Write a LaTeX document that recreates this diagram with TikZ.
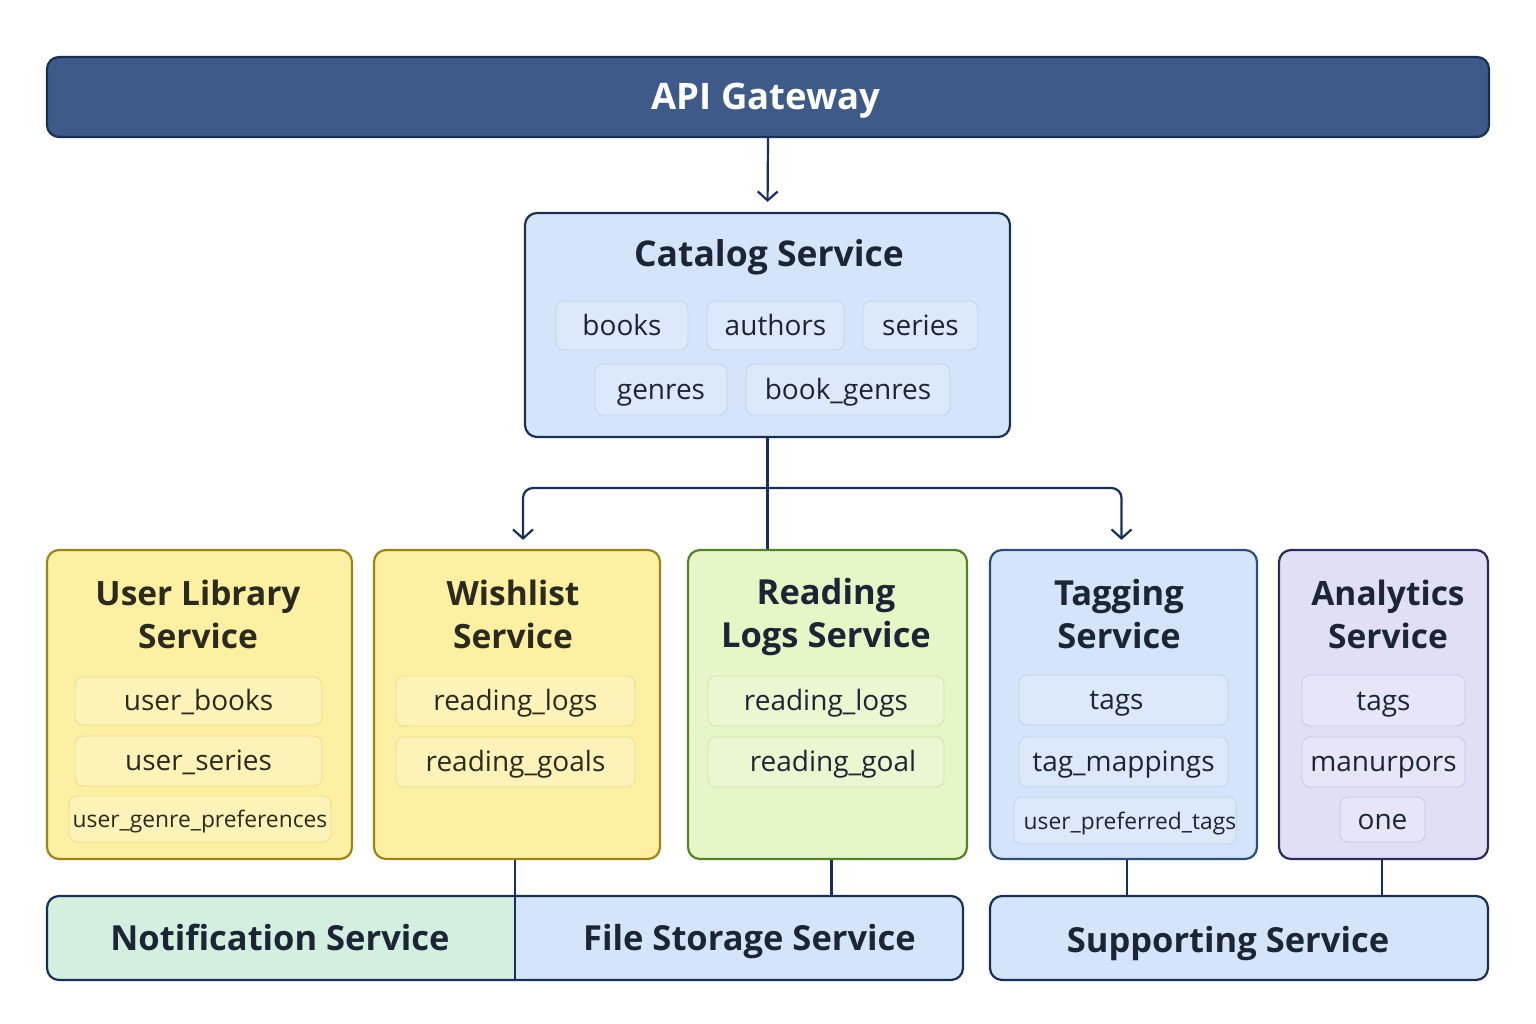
\documentclass[tikz,border=0pt]{standalone}
\usepackage{fontspec}
\setmainfont{Open Sans}
\usetikzlibrary{arrows.meta}
\definecolor{gwfill}{HTML}{3E5A88}
\definecolor{gwdraw}{HTML}{1B2F55}
\definecolor{navy}{HTML}{17305A}
\definecolor{ink}{HTML}{1C2535}
\definecolor{bluefill}{HTML}{D4E5FB}
\definecolor{bluepill}{HTML}{DCE9FC}
\definecolor{bluepillb}{HTML}{BFD1E8}
\definecolor{bluedraw}{HTML}{2C4F7A}
\definecolor{yelfill}{HTML}{FDF0A3}
\definecolor{yeldraw}{HTML}{A08316}
\definecolor{yelpill}{HTML}{FDF3B8}
\definecolor{yelpillb}{HTML}{ECDB8E}
\definecolor{grnfill}{HTML}{E5F7C6}
\definecolor{grndraw}{HTML}{56802C}
\definecolor{grnpill}{HTML}{E9F8D0}
\definecolor{grnpillb}{HTML}{CFE2B0}
\definecolor{purfill}{HTML}{E1DFF6}
\definecolor{purdraw}{HTML}{2B2B5E}
\definecolor{purpill}{HTML}{E7E5F8}
\definecolor{purpillb}{HTML}{C9C6E4}
\definecolor{mint}{HTML}{D3EFE0}
\definecolor{yelink}{HTML}{2B2A1E}
\tikzset{
  box/.style={rectangle, rounded corners=12pt, line width=2.2pt, inner sep=0pt},
  ttl/.style={align=center, font=\fontsize{33.5}{43}\selectfont\bfseries, text=ink, inner sep=0pt},
  pill/.style={rectangle, rounded corners=8pt, line width=0.8pt, inner sep=0pt, font=\fontsize{28}{32}\selectfont, text=ink, text height=24pt, text depth=5pt},
  spill/.style={pill, font=\fontsize{22.8}{26}\selectfont, text height=21pt, text depth=4pt},
  arr/.style={draw=navy, line width=2.2pt, -{Straight Barb[length=9pt,width=20pt,line width=2.2pt]}},
  conn/.style={draw=navy, line width=2.2pt},
  bpill/.style={pill, fill=bluepill, draw=bluepillb},
  ypill/.style={pill, fill=yelpill, draw=yelpillb},
  gpill/.style={pill, fill=grnpill, draw=grnpillb},
  ppill/.style={pill, fill=purpill, draw=purpillb},
  btxt/.style={rectangle, inner sep=0pt, font=\fontsize{34.5}{40}\selectfont\bfseries, text=ink, text height=29pt, text depth=4.4pt},
}
\begin{document}
\begin{tikzpicture}[x=1pt,y=-1pt]
\useasboundingbox (0,0) rectangle (1536,1024);
% API gateway
\node[box, fill=gwfill, draw=gwdraw, minimum width=1442pt, minimum height=80pt] (gw) at (768,97) {};
\node[text=white, inner sep=0pt, font=\fontsize{36.5}{40}\selectfont\bfseries, text height=30pt, text depth=4pt] (gwt) at (766,97) {API Gateway};
% Catalog
\node[box, fill=bluefill, draw=gwdraw, minimum width=485pt, minimum height=224pt] (cat) at (767.5,325) {};
\node[ttl, font=\fontsize{35.5}{43}\selectfont\bfseries, anchor=base] (catt) at (769,267) {Catalog Service};
\node[bpill, minimum width=132pt, minimum height=49pt] (p1) at (622,325.5) {books};
\node[bpill, minimum width=137pt, minimum height=49pt] (p2) at (775.5,325.5) {authors};
\node[bpill, minimum width=115pt, minimum height=49pt] (p3) at (920.5,325.5) {series};
\node[bpill, minimum width=132pt, minimum height=51pt] (p4) at (661,389.5) {genres};
\node[bpill, minimum width=204pt, minimum height=51pt] (p5) at (848,389.5) {book\_genres};
% User library
\node[box, fill=yelfill, draw=yeldraw, minimum width=305pt, minimum height=309pt] (ul) at (199.5,704.5) {};
\node[ttl, text=yelink] (ult) at (198,614) {User Library\\Service};
\node[ypill, text=yelink, minimum width=247pt, minimum height=48pt] (u1) at (198.5,701) {user\_books};
\node[ypill, spill, fill=yelpill, draw=yelpillb, text=yelink, minimum width=247pt, minimum height=50pt, font=\fontsize{28}{32}\selectfont, text height=24pt, text depth=5pt] (u2) at (198.5,761) {user\_series};
\node[ypill, spill, fill=yelpill, draw=yelpillb, text=yelink, minimum width=262pt, minimum height=46pt] (u3) at (200,819) {user\_genre\_preferences};
% Wishlist
\node[box, fill=yelfill, draw=yeldraw, minimum width=286pt, minimum height=309pt] (wl) at (517,704.5) {};
\node[ttl, text=yelink] (wlt) at (513,614) {Wishlist\\Service};
\node[ypill, text=yelink, minimum width=239pt, minimum height=50pt] (w1) at (515.5,701) {reading\_logs\hspace{12pt}};
\node[ypill, text=yelink, minimum width=239pt, minimum height=50pt] (w2) at (515.5,762) {reading\_goals\hspace{10pt}};
% Reading logs
\node[box, fill=grnfill, draw=grndraw, minimum width=279pt, minimum height=309pt] (rl) at (827.5,704.5) {};
\node[ttl, font=\fontsize{34.5}{43}\selectfont\bfseries] (rlt) at (826,617) {Reading\\Logs Service};
\node[gpill, minimum width=236pt, minimum height=50pt] (r1) at (826,701) {reading\_logs};
\node[gpill, minimum width=236pt, minimum height=50pt] (r2) at (826,762) {\hspace{14pt}reading\_goal};
% Tagging
\node[box, fill=bluefill, draw=bluedraw, minimum width=267pt, minimum height=309pt] (tg) at (1123.5,704.5) {};
\node[ttl, font=\fontsize{34.5}{43}\selectfont\bfseries] (tgt) at (1119,614) {Tagging\\Service};
\node[bpill, minimum width=209pt, minimum height=50pt] (t1) at (1123.5,700) {\hspace{-14pt}tags};
\node[bpill, minimum width=209pt, minimum height=50pt] (t2) at (1123.5,762) {tag\_mappings};
\node[bpill, spill, fill=bluepill, draw=bluepillb, minimum width=212pt, minimum height=47pt] (t3) at (1125,820.5) {\hspace{10pt}user\_preferred\_tags};
% Analytics
\node[box, fill=purfill, draw=purdraw, minimum width=209pt, minimum height=309pt] (an) at (1383.5,704.5) {};
\node[ttl] (ant) at (1388,614) {Analytics\\Service};
\node[ppill, minimum width=163pt, minimum height=51pt] (a1) at (1383.5,700.5) {tags};
\node[ppill, minimum width=163pt, minimum height=50pt] (a2) at (1383.5,762) {manurpors};
\node[ppill, minimum width=85pt, minimum height=45pt] (a3) at (1382.5,819.5) {one};
% Bottom row
\coordinate (bnw) at (47,896);
\coordinate (bmid) at (515,938);
\coordinate (bse) at (963,980);
\begin{scope}
\clip[rounded corners=12pt] (bnw) rectangle (bse);
\fill[mint] (bnw) rectangle (bmid |- bse);
\fill[bluefill] (bmid |- bnw) rectangle (bse);
\end{scope}
\node[btxt] (nf) at (280,938) {Notification Service};
\node[btxt] (fs) at (749.5,938) {File Storage Service};
\draw[gwdraw, line width=2.2pt, rounded corners=12pt] (bnw) rectangle (bse);
\node[box, fill=bluefill, draw=gwdraw, minimum width=498pt, minimum height=84pt] (sp) at (1239,938) {};
\node[btxt] (spt) at (1228,940) {Supporting Service};
% connectors
\draw[arr, shorten >=10pt] (gw.south) -- (cat.north);
\coordinate (br) at (768,488);
\draw[conn] (cat.south) -- (cat.south |- rl.north);
\draw[arr, rounded corners=10pt, shorten >=9pt] (br) -| ([xshift=6pt]wl.north);
\draw[arr, rounded corners=10pt, shorten >=9pt] (br) -| ([xshift=-2pt]tg.north);
\draw[conn] (bmid |- wl.south) -- (bmid |- bse);
\draw[conn] ([xshift=4pt]rl.south) -- ([xshift=4pt]rl.south |- bnw);
\draw[conn] ([xshift=3.5pt]tg.south) -- ([xshift=3.5pt]tg.south |- sp.north);
\draw[conn] ([xshift=-1.5pt]an.south) -- ([xshift=-1.5pt]an.south |- sp.north);
\end{tikzpicture}
\end{document}
